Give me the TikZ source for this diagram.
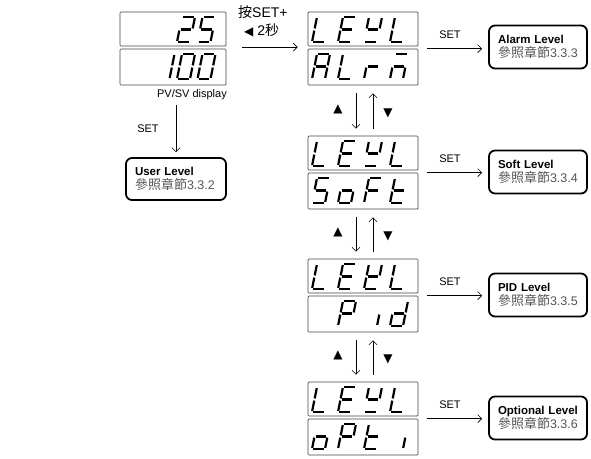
\documentclass[tikz,border=0pt]{standalone}
\usepackage{fontspec}
\setmainfont{Liberation Sans}
\newfontfamily\cjk{Noto Sans CJK TC}
\newfontfamily\sym{DejaVu Sans}
\usetikzlibrary{arrows.meta}
\definecolor{tgray}{HTML}{555555}
\definecolor{lcdframe}{HTML}{444444}

% seven-segment pieces (local units: W=13, H=25)
\def\lcdsega{\draw[seg] (1.1,25)--(11.9,25);}
\def\lcdsegb{\draw[seg] (13,23.9)--(13,13.6);}
\def\lcdsegc{\draw[seg] (13,11.4)--(13,1.1);}
\def\lcdsegd{\draw[seg] (1.1,0)--(11.9,0);}
\def\lcdsege{\draw[seg] (0,1.1)--(0,11.4);}
\def\lcdsegf{\draw[seg] (0,13.6)--(0,23.9);}
\def\lcdsegg{\draw[seg] (1.1,12.5)--(11.9,12.5);}
\def\lcdsegn{}

\newcommand\sgL{f,e,d}
\newcommand\sgE{a,f,g,e,d}
\newcommand\sgV{f,b,g,d}
\newcommand\sgW{f,e,g,b,d}
\newcommand\sgA{a,b,c,e,f,g}
\newcommand\sgr{e,g}
\newcommand\sgm{a,e,g,c}
\newcommand\sgS{a,f,g,c,d}
\newcommand\sgo{g,e,c,d}
\newcommand\sgF{a,f,g,e}
\newcommand\sgt{f,g,e,d}
\newcommand\sgP{a,b,f,g,e}
\newcommand\sgi{c}
\newcommand\sgd{b,c,d,e,g}
\newcommand\sgtwo{a,b,g,e,d}
\newcommand\sgfive{a,f,g,c,d}
\newcommand\sgone{b,c}
\newcommand\sgzero{a,b,c,d,e,f}
\newcommand\sgX{n}

\newcommand\lcdchar[3]{%
  \begin{scope}[shift={({#1},{#2})},x=1pt,y=1pt,xslant=0.2]
    \edef\lcdlist{#3}%
    \foreach \sg in \lcdlist {\csname lcdseg\sg\endcsname}%
  \end{scope}}
\newcommand\lcdrow[7]{%
  \lcdchar{#1}{#3}{#4}\lcdchar{#1+#2}{#3}{#5}%
  \lcdchar{#1+2*#2}{#3}{#6}\lcdchar{#1+3*#2}{#3}{#7}}

\newcommand\lvtext[2]{{\bfseries #1}\\{\color{tgray}{\cjk\fontsize{13}{14}\selectfont 參照章節}\fontsize{12.5}{14}\selectfont #2}}

\tikzset{
  seg/.style={line width=2.2pt, black},
  lcd/.style={draw=lcdframe, line width=0.7pt, rounded corners=1pt, inner sep=0pt},
  lvl/.style={draw, line width=1.8pt, rounded corners=6pt, minimum width=98pt,
    minimum height=43pt, text width=80pt, inner sep=0pt, align=left,
    font=\fontsize{11.5}{14}\selectfont},
  arr/.style={line width=0.6pt, -{Straight Barb[length=4pt,width=8pt]}},
  lbl/.style={font=\fontsize{11}{13}\selectfont, inner sep=0pt},
  tri/.style={font=\sym\fontsize{12}{12}\selectfont, inner sep=0pt},
}

\begin{document}
\begin{tikzpicture}[x=1pt,y=-1pt]
\useasboundingbox (0,0) rectangle (591,458);

% ---------- left PV/SV display ----------
\node[lcd, minimum width=106pt, minimum height=34pt] (l0t) at (173,29) {};
\node[lcd, minimum width=106pt, minimum height=36pt] (l0b) at (173,67) {};
\lcdrow{136}{20.5}{42}{\sgX}{\sgX}{\sgtwo}{\sgfive}
\lcdrow{136}{20.5}{79}{\sgX}{\sgone}{\sgzero}{\sgzero}
\node[lbl, anchor=east] (pvsv) at (227,95) {PV/SV display};

% ---------- right displays ----------
\foreach \k/\yo in {1/12,2/136,3/259,4/382}{
  \node[lcd, minimum width=110pt, minimum height=34pt] (d\k t) at (363,{\yo+17}) {};
  \node[lcd, minimum width=110pt, minimum height=36pt] (d\k b) at (363,{\yo+55}) {};
}
\lcdrow{312}{26}{42}{\sgL}{\sgE}{\sgV}{\sgL}
\lcdrow{312}{26}{79}{\sgA}{\sgL}{\sgr}{\sgm}
\lcdrow{312}{26}{166}{\sgL}{\sgE}{\sgV}{\sgL}
\lcdrow{312}{26}{203}{\sgS}{\sgo}{\sgF}{\sgt}
\lcdrow{312}{26}{289}{\sgL}{\sgE}{\sgW}{\sgL}
\lcdrow{312}{26}{326}{\sgX}{\sgP}{\sgi}{\sgd}
\lcdrow{312}{26}{412}{\sgL}{\sgE}{\sgV}{\sgL}
\lcdrow{312}{26}{449}{\sgo}{\sgP}{\sgt}{\sgi}

% ---------- level boxes ----------
\node[lvl] (lv1) at (538,47)  {\lvtext{Alarm Level}{3.3.3}};
\node[lvl] (lv2) at (538,172) {\lvtext{Soft Level}{3.3.4}};
\node[lvl] (lv3) at (538,295) {\lvtext{PID Level}{3.3.5}};
\node[lvl] (lv4) at (538,418) {\lvtext{Optional Level}{3.3.6}};
\node[lvl, minimum width=100pt, minimum height=42pt, text width=82pt] (ul) at (176,179) {\lvtext{User Level}{3.3.2}};

% ---------- connectors ----------
\draw[arr, shorten <=16pt, shorten >=10pt] ([yshift=1.5pt]l0b.north east) -- ([yshift=1.5pt]d1b.north west);
\node[inner sep=0pt, anchor=west, font=\fontsize{14}{16}\selectfont] (keylbl) at (238,12.5) {{\cjk 按}SET+};
\node[inner sep=0pt, anchor=west, font=\fontsize{14}{16}\selectfont] (timelbl) at (244,30) {{\sym\fontsize{12}{12}\selectfont ◀} 2{\cjk 秒}};

\draw[arr, shorten <=20pt, shorten >=5pt] (l0b.south -| ul.north) -- (ul.north);
\node[lbl] (setu) at (148,129) {SET};

\foreach \k/\yo in {1/12,2/136,3/259,4/382}{
  \draw[arr, shorten <=9pt, shorten >=6pt] (d\k b.north east) -- (d\k b.north east -| lv\k.west);
  \node[lbl] (set\k) at (450,{\yo+22.5}) {SET};
}

\foreach \k/\n/\m in {1/2/110.5,2/3/234,3/4/357}{
  \draw[arr, shorten <=8pt, shorten >=7pt] ([xshift=-7pt]d\k b.south) -- ([xshift=-7pt]d\n t.north);
  \draw[arr, shorten <=7pt, shorten >=8pt] ([xshift=10pt]d\n t.north) -- ([xshift=10pt]d\k b.south);
  \node[tri] (up\k) at (338,{\m-1.5}) {▲};
  \node[tri] (dn\k) at (388,{\m+2.5}) {▼};
}
\end{tikzpicture}
\end{document}
